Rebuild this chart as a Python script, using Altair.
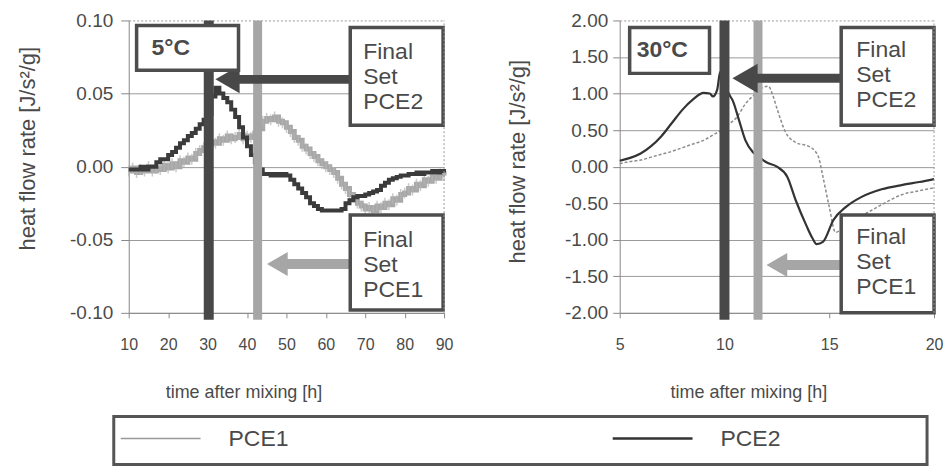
import altair as alt
import pandas as pd

# ------------------------------------------------------------------ data
series_names = ["PCE1", "PCE2"]
temps = ["5°C", "30°C"]
x_title = "time after mixing [h]"
y_title = "heat flow rate [J/s²/g]"

# 5 °C panel (hourly readings, 10..90 h)
left_hours = list(range(10, 91))
left_pce1 = [-0.003, -0.001, -0.004, -0.002, -0.003, 0.000, -0.003, -0.001, -0.002, 0.001,
             -0.001, 0.002, 0.000, 0.004, 0.003, 0.006, 0.005, 0.009, 0.011, 0.013,
             0.015, 0.017, 0.016, 0.019, 0.018, 0.021, 0.019, 0.020, 0.022, 0.019,
             0.021, 0.020, 0.023, 0.026, 0.031, 0.033, 0.032, 0.034, 0.031, 0.030,
             0.027, 0.024, 0.020, 0.018, 0.014, 0.012, 0.009, 0.007, 0.004, 0.002,
             0.000, -0.002, -0.004, -0.008, -0.012, -0.015, -0.019, -0.021, -0.025, -0.027,
             -0.029, -0.028, -0.030, -0.027, -0.028, -0.025, -0.026, -0.022, -0.023, -0.019,
             -0.018, -0.015, -0.016, -0.012, -0.013, -0.009, -0.010, -0.007, -0.008, -0.005,
             -0.006]
left_pce2 = [-0.002, -0.002, -0.002, 0.000, -0.002, 0.000, 0.000, 0.003, 0.005, 0.005,
             0.008, 0.010, 0.013, 0.016, 0.018, 0.021, 0.023, 0.026, 0.029, 0.032,
             0.036, 0.048, 0.054, 0.050, 0.047, 0.044, 0.039, 0.034, 0.027, 0.020,
             0.014, 0.008, 0.003, -0.002, -0.005, -0.005, -0.006, -0.005, -0.006, -0.005,
             -0.006, -0.009, -0.012, -0.015, -0.018, -0.021, -0.025, -0.027, -0.029, -0.030,
             -0.030, -0.030, -0.030, -0.030, -0.029, -0.025, -0.023, -0.021, -0.020, -0.020,
             -0.019, -0.018, -0.017, -0.016, -0.013, -0.011, -0.009, -0.008, -0.007, -0.006,
             -0.006, -0.005, -0.005, -0.004, -0.005, -0.004, -0.004, -0.003, -0.004, -0.003,
             -0.004]

# 30 °C panel
right_t_pce1 = [5.0, 5.5, 6.0, 6.5, 7.0, 7.5, 8.0, 8.5, 9.0, 9.5, 9.8, 10.2, 10.6, 11.0,
                11.5, 11.8, 12.1, 12.3, 12.5, 12.9, 13.4, 14.0, 14.3, 14.5, 14.7, 15.0,
                15.3, 15.6, 16.0, 16.5, 17.0, 17.5, 18.5, 19.3, 20.0]
right_pce1 = [0.04, 0.07, 0.09, 0.13, 0.17, 0.21, 0.26, 0.31, 0.36, 0.44, 0.49, 0.58, 0.68, 0.86,
              1.00, 1.08, 1.10, 0.98, 0.80, 0.48, 0.33, 0.28, 0.22, 0.12, -0.14, -0.55,
              -0.90, -0.85, -0.75, -0.68, -0.60, -0.52, -0.38, -0.33, -0.29]
right_t_pce2 = [5.0, 5.5, 6.0, 6.5, 7.0, 7.5, 8.0, 8.5, 9.0, 9.3, 9.45, 9.65, 9.8, 10.0, 10.2,
                10.4, 10.7, 11.0, 11.35, 11.7, 12.0, 12.5, 13.0, 13.4, 13.9, 14.2, 14.4,
                14.7, 15.2, 15.8, 16.5, 17.5, 18.5, 19.3, 20.0]
right_pce2 = [0.08, 0.12, 0.18, 0.28, 0.42, 0.60, 0.78, 0.92, 1.01, 1.00, 0.96, 1.05, 1.30, 1.15, 1.00,
              0.90, 0.63, 0.36, 0.20, 0.12, 0.06, 0.00, -0.14, -0.46, -0.80, -0.98, -1.06,
              -1.03, -0.73, -0.55, -0.42, -0.31, -0.25, -0.21, -0.17]

left_x_ticks = [10, 20, 30, 40, 50, 60, 70, 80, 90]
left_y_ticks = [-0.10, -0.05, 0.00, 0.05, 0.10]
right_x_ticks = [5, 10, 15, 20]
right_y_ticks = [-2.0, -1.5, -1.0, -0.5, 0.0, 0.5, 1.0, 1.5, 2.0]

# final-set times [h]
left_set_time = [42.7, 30.3]     # PCE1, PCE2
right_set_time = [11.6, 10.0]

# annotation placement in data units (boxes, arrows, labels)
left_ann = dict(
    temp_box=[12.0, 37.85, 0.0966, 0.0659], temp_text=[15.8, 0.0809],
    box=[[66.2, 89.75, -0.0331, -0.0980], [66.2, 89.75, 0.0952, 0.0283]],   # PCE1, PCE2
    text=[[69.5, -0.0502], [69.5, 0.0782]],
    arrow_y=[-0.0666, 0.0597], arrow_end=[49.2, 37.5], head=[47.7, 35.06],
    bar_bottom=-0.1048)
right_ann = dict(
    temp_box=[5.476, 9.286, 1.904, 1.276], temp_text=[5.81, 1.59],
    box=[[15.57, 20.0, -0.662, -2.0], [15.57, 20.0, 1.904, 0.567]],
    text=[[16.29, -0.962], [16.29, 1.590]],
    arrow_y=[-1.345, 1.208], arrow_end=[12.86, 11.43], head=[12.5, 10.98],
    bar_bottom=-2.096)

# ------------------------------------------------------------------ style
FONT = "Liberation Sans"
DARK = "#3b3b3b"
LIGHT = "#a8a8a8"
BOXC = "#4d4d4d"
TXT = "#4a4a4a"
GRID = "#9a9a9a"
AXC = "#888888"
bar_colors = {"PCE1": "#a6a6a6", "PCE2": "#484848"}


def make_panel(xdom, ydom, xticks, yticks, series, temp, set_time, ann,
               xtitle_x, ytitle_x, ytitle_y, left_style, head_sizes):
    W, H = (316 if left_style else 315), 293
    top = ydom[1]
    xs = alt.Scale(domain=xdom, nice=False, zero=False)
    ys = alt.Scale(domain=ydom, nice=False, zero=False)
    xaxis = alt.Axis(values=xticks, title=x_title, grid=False, labelFont=FONT,
                     labelFontSize=16, labelColor=TXT, labelPadding=19, tickSize=5,
                     tickColor=AXC, domainColor=AXC, titleFont=FONT, titleFontSize=18,
                     titleFontWeight="normal", titleColor=TXT, titleX=xtitle_x, titleY=80,
                     titleAlign="center", titleBaseline="middle", labelFlush=False)
    yaxis = alt.Axis(values=yticks, format=".2f",
                     labelExpr="replace(datum.label, '\u2212', '-')",
                     title=y_title, grid=True, gridColor=GRID, gridWidth=1,
                     gridDash={"condition": {"test": f"datum.value >= {top * 0.999}",
                                             "value": [2, 2]}, "value": []},
                     labelFont=FONT, labelFontSize=19, labelColor=TXT,
                     labelPadding=8 if left_style else 5, tickSize=8 if left_style else 7,
                     tickColor=AXC, domainColor=AXC, titleFont=FONT, titleFontSize=22,
                     titleFontWeight="normal", titleColor=TXT, titleX=ytitle_x,
                     titleY=ytitle_y, titleAngle=270, titleAlign="center",
                     titleBaseline="middle")
    X = alt.X("x:Q", scale=xs, axis=xaxis)
    Y = alt.Y("y:Q", scale=ys, axis=yaxis)

    layers = []
    # data series
    for name, (tx, vy) in zip(series_names, series):
        df = pd.DataFrame({"x": tx, "y": vy})
        if left_style:
            if name == "PCE1":
                layers.append(alt.Chart(df).mark_line(interpolate="step-after", strokeWidth=5,
                                                      color=LIGHT).encode(x=X, y=Y))
                layers.append(alt.Chart(df).mark_tick(orient="vertical", size=11, thickness=1.5,
                                                      color="#b4b4b4").encode(x=X, y=Y))
            else:
                layers.append(alt.Chart(df).mark_line(interpolate="step-after", strokeWidth=4,
                                                      color=DARK).encode(x=X, y=Y))
        else:
            if name == "PCE1":
                layers.append(alt.Chart(df).mark_line(interpolate="monotone", strokeWidth=1.5,
                                                      strokeDash=[3, 2], color="#8c8c8c")
                              .encode(x=X, y=Y))
            else:
                layers.append(alt.Chart(df).mark_line(interpolate="monotone", strokeWidth=2.2,
                                                      color="#333333").encode(x=X, y=Y))
    # final set bars
    for i, name in enumerate(series_names):
        df = pd.DataFrame({"x": [set_time[i]], "y": [top], "y2": [ann["bar_bottom"]]})
        layers.append(alt.Chart(df).mark_rule(strokeWidth=10 if name == "PCE2" else 9,
                                              color=bar_colors[name])
                      .encode(x=X, y=Y, y2=alt.Y2("y2:Q")))
    # arrows
    for i, name in enumerate(series_names):
        df = pd.DataFrame({"x": [ann["box"][i][0]], "x2": [ann["arrow_end"][i]],
                           "y": [ann["arrow_y"][i]]})
        layers.append(alt.Chart(df).mark_rule(strokeWidth=10 if name == "PCE1" else 9,
                                              color=bar_colors[name])
                      .encode(x=X, x2=alt.X2("x2:Q"), y=Y))
        hd = pd.DataFrame({"x": [ann["head"][i]], "y": [ann["arrow_y"][i]]})
        layers.append(alt.Chart(hd).mark_point(shape="triangle-left", filled=True, opacity=1,
                                               size=head_sizes[i], color=bar_colors[name])
                      .encode(x=X, y=Y))
    # boxes
    boxes = [ann["temp_box"]] + ann["box"]
    bdf = pd.DataFrame({"x": [b[0] for b in boxes], "x2": [b[1] for b in boxes],
                        "y": [b[2] for b in boxes], "y2": [b[3] for b in boxes]})
    layers.append(alt.Chart(bdf).mark_rect(fill="white", stroke=BOXC, strokeWidth=3.5)
                  .encode(x=X, x2=alt.X2("x2:Q"), y=Y, y2=alt.Y2("y2:Q")))
    # texts (y = centre of first line)
    tdf = pd.DataFrame({"x": [t[0] for t in ann["text"]], "y": [t[1] for t in ann["text"]],
                        "label": ["Final\nSet\n" + n for n in series_names]})
    layers.append(alt.Chart(tdf).mark_text(align="left", baseline="middle", font=FONT,
                                           fontSize=23, lineHeight=25, lineBreak="\n",
                                           color=TXT)
                  .encode(x=X, y=Y, text="label:N"))
    ttdf = pd.DataFrame({"x": [ann["temp_text"][0]], "y": [ann["temp_text"][1]], "label": [temp]})
    layers.append(alt.Chart(ttdf).mark_text(align="left", baseline="middle", font=FONT,
                                            fontSize=23, fontWeight="bold", color=TXT)
                  .encode(x=X, y=Y, text="label:N"))
    # dotted right border
    rdf = pd.DataFrame({"x": [xdom[1]], "y": [ydom[0]], "y2": [ydom[1]]})
    layers.append(alt.Chart(rdf).mark_rule(strokeDash=[2, 2], color=GRID, strokeWidth=1)
                  .encode(x=X, y=Y, y2=alt.Y2("y2:Q")))
    return layers, W, H


left_layers, LW, LH = make_panel([10, 90], [-0.10, 0.10], left_x_ticks, left_y_ticks,
                                 [(left_hours, left_pce1), (left_hours, left_pce2)],
                                 temps[0], left_set_time, left_ann,
                                 115, -101, 128, True, [576, 784])
right_layers, RW, RH = make_panel([5, 20], [-2.0, 2.0], right_x_ticks, right_y_ticks,
                                  [(right_t_pce1, right_pce1), (right_t_pce2, right_pce2)],
                                  temps[1], right_set_time, right_ann,
                                  129, -102, 141, False, [576, 850])

# legend box (pixel positions relative to left plot area) + canvas extent
one = pd.DataFrame({"k": [0]})
canvas = alt.Chart(one).mark_rect(opacity=0).encode(
    x=alt.value(-128), x2=alt.value(820), y=alt.value(-19), y2=alt.value(447))
legend_box = alt.Chart(one).mark_rect(fill="white", fillOpacity=0, stroke="#555555",
                                      strokeWidth=3).encode(
    x=alt.value(-15), x2=alt.value(800), y=alt.value(397), y2=alt.value(445))
legend_layers = [legend_box]
for name, lx in zip(series_names, [-8, 485]):
    lw = 1.5 if name == "PCE1" else 2.5
    lc = "#999999" if name == "PCE1" else "#333333"
    legend_layers.append(alt.Chart(one).mark_rule(strokeWidth=lw, color=lc).encode(
        x=alt.value(lx), x2=alt.value(lx + 80), y=alt.value(419)))
    legend_layers.append(alt.Chart(pd.DataFrame({"t": [name]})).mark_text(
        align="left", baseline="middle", font=FONT, fontSize=23, color=TXT).encode(
        x=alt.value(lx + 108), y=alt.value(419), text="t:N"))

left = alt.layer(*left_layers, canvas, *legend_layers).properties(width=LW, height=LH)
right = alt.layer(*right_layers).properties(width=RW, height=RH)

chart = alt.hconcat(left, right, spacing=176, bounds="flush").properties(
    padding=0, background="white"
).configure_view(stroke="transparent")

chart.save("out.html", embed_options={"renderer": "svg", "actions": False})
